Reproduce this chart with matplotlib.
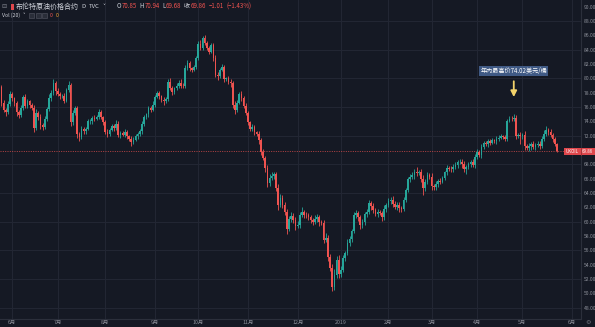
import matplotlib
matplotlib.use('Agg')
import matplotlib.pyplot as plt
from matplotlib.patches import Rectangle
import matplotlib.transforms as mtransforms
import numpy as np

plt.rcParams['font.family'] = ['Noto Sans CJK SC', 'DejaVu Sans']
plt.rcParams['axes.unicode_minus'] = False

# ---------------- data ----------------
first_open = 78.8
closes = [
    # Jun-Jul 2018
    76.6, 75.6, 75.3, 76.4, 77.8, 77.2, 76.5, 75.3, 74.9, 75.8, 77.4, 76.2, 76.8, 76.3, 75.9,
    73.1, 75.2, 74.6, 73.5, 73.2, 74.3, 75.7, 77.3, 78.0, 79.3, 78.2, 77.8, 77.5, 77.6, 76.9,
    78.4, 79.1, 73.9, 75.2, 75.8, 72.2, 71.8, 72.9, 72.6, 73.0, 74.0, 74.1, 74.5, 74.4, 74.6,
    # Aug-Sep
    75.3, 74.6, 73.9, 72.5, 72.3, 72.8, 73.4, 73.1, 73.7, 72.1, 72.4, 72.1, 72.5, 71.9, 71.6,
    71.1, 71.4, 71.9, 72.3, 72.6, 73.6, 74.6, 75.0, 75.8, 75.6, 76.3, 77.4, 77.9, 77.5, 77.0,
    76.8, 77.1, 79.5, 78.7, 78.1, 78.6, 79.0, 79.4, 79.0, 78.9, 81.5, 82.1, 81.4, 81.2, 81.6,
    # Oct-Nov
    82.8, 84.8, 84.3, 85.6, 84.9, 84.3, 83.7, 84.6, 82.8, 80.5, 80.3, 81.2, 81.6, 79.9, 80.0,
    79.5, 79.3, 76.3, 75.6, 76.6, 77.8, 77.3, 76.2, 75.2, 73.9, 72.9, 73.2, 72.5, 72.2, 71.4,
    69.7, 68.9, 67.5, 65.4, 66.1, 66.4, 66.6, 64.7, 62.3, 63.3, 62.4, 61.3, 59.0, 60.4,
    # Dec-Jan
    60.8, 60.3, 59.4, 59.6, 60.9, 61.4, 61.0, 60.9, 60.6, 60.2, 60.0, 60.4, 60.7, 59.9, 59.8,
    57.5, 57.8, 55.1, 53.6, 50.9, 52.6, 54.6, 52.7, 53.3, 54.9, 55.6, 57.1, 57.6, 58.7, 60.9,
    61.2, 60.6, 59.6, 59.9, 61.1, 61.4, 62.6, 62.2, 61.6, 61.1, 61.3, 61.2, 60.6, 61.8,
    # Feb-Apr
    62.3, 62.9, 63.1, 62.5, 62.1, 62.4, 61.9, 61.8, 63.0, 64.4, 65.9, 66.3, 66.5, 67.0, 66.8,
    66.9, 66.0, 64.7, 65.6, 66.5, 66.3, 65.0, 64.8, 65.3, 65.7, 65.6, 66.1, 66.9, 67.5, 67.4,
    67.3, 67.7, 67.9, 68.3, 68.4, 68.0, 67.3, 67.6, 68.0, 68.3, 67.9, 69.1, 69.7,
    # Apr-May 2019
    69.3, 70.4, 71.0, 70.8, 71.2, 71.0, 71.4, 71.3, 71.6, 71.7, 71.9, 71.8, 71.6, 74.1, 74.4,
    74.3, 74.5, 72.0, 72.1, 71.9, 72.1, 70.5, 70.3, 70.6, 70.8, 70.4, 70.7, 70.9, 70.6, 71.6,
    72.3, 72.8, 72.5, 72.1, 71.5, 70.85, 69.86,
]
wick_hi = [
    0.3,0.4,0.3,0.5,0.4,0.3,0.2,0.4,0.3,0.5,0.3,0.4,0.3,0.2,0.3,0.4,0.5,0.3,0.4,0.3,0.4,0.3,0.5,0.4,0.6,
    0.3,0.4,0.3,0.2,0.4,0.3,0.5,0.3,0.4,0.3,0.4,0.3,0.5,0.3,0.2,0.4,0.3,0.3,0.4,0.3,
    0.4,0.3,0.2,0.3,0.4,0.3,0.2,0.3,0.5,0.3,0.2,0.3,0.4,0.3,0.2,0.3,0.4,0.3,0.2,0.3,0.4,0.3,0.2,0.4,0.3,
    0.5,0.3,0.4,0.3,0.2,0.4,0.3,0.4,0.6,0.3,0.2,0.3,0.4,0.5,0.3,0.3,0.4,0.3,0.2,0.3,
    0.3,0.4,0.5,0.3,0.4,0.3,0.2,0.4,0.3,0.5,0.4,0.3,0.4,0.3,0.2,0.3,0.4,0.3,0.6,0.4,0.3,0.5,
    0.3,0.4,0.3,0.2,0.4,0.3,0.2,0.5,0.3,0.4,0.3,0.4,0.6,0.5,0.3,0.4,0.5,0.6,0.4,0.3,0.5,0.4,
    0.5,0.4,0.3,0.5,0.4,0.6,0.3,0.4,0.3,0.4,0.3,0.5,0.4,0.3,0.3,0.4,0.6,0.3,0.4,0.5,0.8,0.6,
    0.7,0.5,0.4,0.3,0.5,0.4,0.3,0.5,0.4,0.3,0.4,0.5,0.3,0.4,0.5,0.3,0.4,0.3,0.5,0.4,0.3,0.5,
    0.3,0.4,0.3,0.5,0.4,0.3,0.4,0.3,0.4,0.3,0.4,0.3,0.5,0.4,0.6,0.3,0.4,0.5,0.3,0.4,0.3,0.5,
    0.3,0.4,0.3,0.4,0.3,0.2,0.4,0.3,0.4,0.3,0.5,0.3,0.4,0.3,0.5,0.3,0.4,0.3,0.5,0.3,0.4,
    0.3,0.4,0.3,0.2,0.3,0.4,0.3,0.2,0.3,0.4,0.3,0.2,0.3,0.3,0.4,0.3,0.6,0.4,0.3,0.4,0.3,0.5,
    0.3,0.4,0.3,0.5,0.3,0.4,0.3,0.4,0.5,0.6,0.3,0.4,0.3,0.3,0.09,
]
wick_lo = [
    0.4,0.3,0.5,0.3,0.2,0.4,0.3,0.5,0.4,0.3,0.2,0.4,0.3,0.5,0.3,0.6,0.3,0.4,0.5,0.4,0.3,0.2,0.3,0.4,0.3,
    0.5,0.3,0.4,0.3,0.3,0.2,0.3,0.5,0.4,0.3,0.5,0.6,0.3,0.4,0.3,0.2,0.3,0.4,0.3,0.2,
    0.3,0.2,0.4,0.3,0.5,0.3,0.2,0.4,0.3,0.3,0.4,0.2,0.3,0.4,0.3,0.5,0.3,0.2,0.3,0.4,0.3,0.2,0.3,0.4,0.3,
    0.2,0.3,0.2,0.4,0.3,0.5,0.3,0.2,0.3,0.4,0.3,0.2,0.3,0.4,0.3,0.2,0.3,0.4,0.3,0.2,
    0.3,0.2,0.4,0.3,0.3,0.4,0.3,0.2,0.4,0.3,0.5,0.3,0.2,0.4,0.3,0.3,0.5,0.4,0.6,0.3,0.2,0.4,
    0.3,0.3,0.4,0.3,0.2,0.4,0.3,0.5,0.4,0.3,0.5,0.6,0.4,0.3,0.5,0.4,0.6,0.3,0.5,0.4,0.7,0.3,
    0.4,0.5,0.6,0.3,0.4,0.3,0.5,0.4,0.3,0.4,0.5,0.3,0.4,0.5,0.3,0.4,0.3,0.6,0.5,0.6,0.4,0.5,
    0.6,0.4,0.3,0.4,0.3,0.5,0.4,0.3,0.4,0.5,0.6,0.4,0.3,0.4,0.3,0.5,0.4,0.3,0.4,0.3,0.5,0.4,
    0.4,0.3,0.4,0.5,0.3,0.4,0.5,0.4,0.3,0.2,0.3,0.4,0.3,0.5,0.4,0.3,0.4,0.9,0.4,0.3,0.4,0.5,
    0.4,0.3,0.4,0.3,0.2,0.3,0.4,0.3,0.4,0.3,0.3,0.4,0.3,0.5,0.4,0.6,0.3,0.4,0.3,0.4,0.3,
    0.3,0.4,0.3,0.3,0.4,0.3,0.2,0.3,0.4,0.3,0.2,0.3,0.4,0.3,0.2,0.3,0.3,0.4,0.3,1.0,0.4,0.5,
    0.3,0.4,0.6,0.3,0.4,0.3,0.5,0.3,0.4,0.3,0.4,0.3,0.4,0.3,0.18,
]
month_ticks = [5, 26, 48, 71, 91, 114, 137, 157, 179, 199, 220, 241, 264]
month_labels = ['6月', '7月', '8月', '9月', '10月', '11月', '12月', '2019', '2月', '3月', '4月', '5月', '6月']
price_ticks = [48, 50, 52, 54, 56, 58, 60, 62, 64, 66, 68, 72, 74, 76, 78, 80, 82, 84, 86, 88, 90]
grid_levels = [48, 52, 56, 60, 64, 68, 72, 76, 80, 84, 88]
symbol_name = '布伦特原油价格合约'
symbol_code = 'UKOIL'
last_open, last_high, last_low, last_close = 70.85, 70.94, 69.68, 69.86
change, change_pct = -1.01, -1.43
annotation_text = '年内最高价74.02美元/桶'

# ---------------- derived OHLC ----------------
closes_a = np.array(closes)
opens_a = np.array([first_open] + closes[:-1])
highs_a = np.maximum(opens_a, closes_a) + np.array(wick_hi)
lows_a = np.minimum(opens_a, closes_a) - np.array(wick_lo)
n = len(closes_a)
idx = np.arange(n)

BG = '#151924'
GRID = '#232734'
UP = '#26a69a'
DN = '#ef5350'
AXC = '#2b2f3b'
TXT = '#8c8f99'

W, H = 595, 327
fig = plt.figure(figsize=(W / 100, H / 100), dpi=100, facecolor=BG)
ax = fig.add_axes([0, 8.5 / H, 581 / W, 318.5 / H])
ax.set_facecolor(BG)

spacing = 2.1615
ax.set_xlim(-1.5 / spacing, (581 - 1.5) / spacing)
ax.set_ylim(46.51, 90.93)

for g in grid_levels:
    ax.axhline(g, color=GRID, lw=0.7, zorder=0)
for t in month_ticks:
    ax.axvline(t, color=GRID, lw=0.7, zorder=0)

up = closes_a >= opens_a
cols = np.where(up, UP, DN)
ax.vlines(idx, lows_a, highs_a, colors=cols, lw=0.6, zorder=2)
ax.bar(idx, np.maximum(np.abs(closes_a - opens_a), 0.1), bottom=np.minimum(opens_a, closes_a),
       width=0.75, color=cols, linewidth=0, zorder=3)

# last price dotted line
ax.axhline(last_close, color=DN, lw=0.6, ls=(0, (1.2, 1.6)), alpha=0.85, zorder=1)

# annotation: highest bar of 2019
start_2019 = month_ticks[7]
peak = start_2019 + int(np.argmax(highs_a[start_2019:]))
ax.annotate('', xy=(peak, highs_a[peak] + 2.3), xytext=(peak, highs_a[peak] + 4.5),
            arrowprops=dict(arrowstyle='-|>,head_length=0.35,head_width=0.18',
                            color='#f3d36b', lw=1.3, shrinkA=0, shrinkB=0), zorder=5)
ax.text(peak, highs_a[peak] + 5.9, annotation_text, ha='center', va='center', fontsize=4.4,
        color='#ffffff', zorder=6,
        bbox=dict(boxstyle='square,pad=0.2', fc='#405a85', ec='none'))

# axes styling
for s in ['top', 'left']:
    ax.spines[s].set_visible(False)
for s in ['right', 'bottom']:
    ax.spines[s].set_color(AXC)
    ax.spines[s].set_linewidth(0.8)
ax.yaxis.tick_right()
ax.set_yticks(price_ticks)
ax.set_yticklabels([f'{v:.2f}' for v in price_ticks])
ax.tick_params(axis='y', length=0, pad=1.8, labelsize=3.6, labelcolor=TXT)
ax.set_xticks(month_ticks)
ax.set_xticklabels(month_labels)
ax.tick_params(axis='x', length=0, pad=1.2, labelsize=3.8, labelcolor=TXT)

# current price tag
bt = mtransforms.blended_transform_factory(ax.transAxes, ax.transData)
ax.add_patch(Rectangle((564 / 581, last_close - 0.48), (595 - 564) / 581, 0.96,
                       transform=bt, clip_on=False, fc='#e0474c', ec='none', zorder=7))
ax.plot([1, 1], [last_close - 0.48, last_close + 0.48], transform=bt, color='#9c2f33',
        lw=0.6, clip_on=False, zorder=8)
ax.text(572 / 581, last_close, symbol_code, transform=bt, ha='center', va='center',
        fontsize=3.2, color='white', zorder=9, clip_on=False)
ax.text(587.5 / 581, last_close, f'{last_close:.2f}', transform=bt, ha='center', va='center',
        fontsize=3.2, color='white', zorder=9, clip_on=False)

# ---------------- header legend ----------------
def fx(px):
    return px / W

def fy(py):
    return 1 - py / H

renderer = fig.canvas.get_renderer()

def seq(x_px, y_px, pieces, size):
    """Place text pieces one after another; returns end x in px."""
    x = x_px
    for txt, col, gap, fam in pieces:
        kw = dict(fontsize=size, color=col, va='center')
        if fam:
            kw['family'] = fam
        t = fig.text(fx(x), fy(y_px), txt, **kw)
        bb = t.get_window_extent(renderer)
        x = bb.x1 + gap
    return x

LBL = '#cfd2da'
fig.text(fx(1.5), fy(6.5), '⊟', fontsize=4.5, color='#7d808a', va='center', family='DejaVu Sans')
fig.patches.append(Rectangle((fx(11), fy(9.5)), 3 / W, 6 / H, transform=fig.transFigure,
                             fc='#e0474c', ec='none'))
fig.text(fx(16), fy(6.5), symbol_name, fontsize=5.0, color=LBL, va='center')
seq(81, 6.5, [('D', LBL, 4, None), ('TVC', LBL, 2.5, None), ('˅', LBL, 0, 'DejaVu Sans')], 4.3)
seq(117, 6.5, [('O', LBL, 0.3, None), (f'{last_open:.2f}', DN, 2.6, None),
               ('H', LBL, 0.3, None), (f'{last_high:.2f}', DN, 2.6, None),
               ('L', LBL, 0.3, None), (f'{last_low:.2f}', DN, 2.6, None),
               ('收', LBL, 0.3, None), (f'{last_close:.2f}', DN, 3.0, None),
               (f'−{abs(change):.2f}', DN, 2.4, None),
               (f'(−{abs(change_pct):.2f}%)', DN, 0, None)], 4.4)

seq(2, 15.5, [('Vol (20)', LBL, 2, None), ('˅', LBL, 0, 'DejaVu Sans')], 3.8)
for bx in [29, 35.5, 42]:
    fig.patches.append(Rectangle((fx(bx), fy(18)), 5 / W, 5 / H, transform=fig.transFigure,
                                 fc='#2a2e39', ec='#555864', lw=0.4))
fig.text(fx(50), fy(15.5), '0', fontsize=3.8, color=DN, va='center')
fig.text(fx(56), fy(15.5), '0', fontsize=3.8, color='#f0a030', va='center')

fig.text(fx(588), fy(322), '⚙', fontsize=4.5, color='#6f727c', ha='center', va='center',
         family='DejaVu Sans')

fig.savefig('out.png', dpi=100, facecolor=BG)
